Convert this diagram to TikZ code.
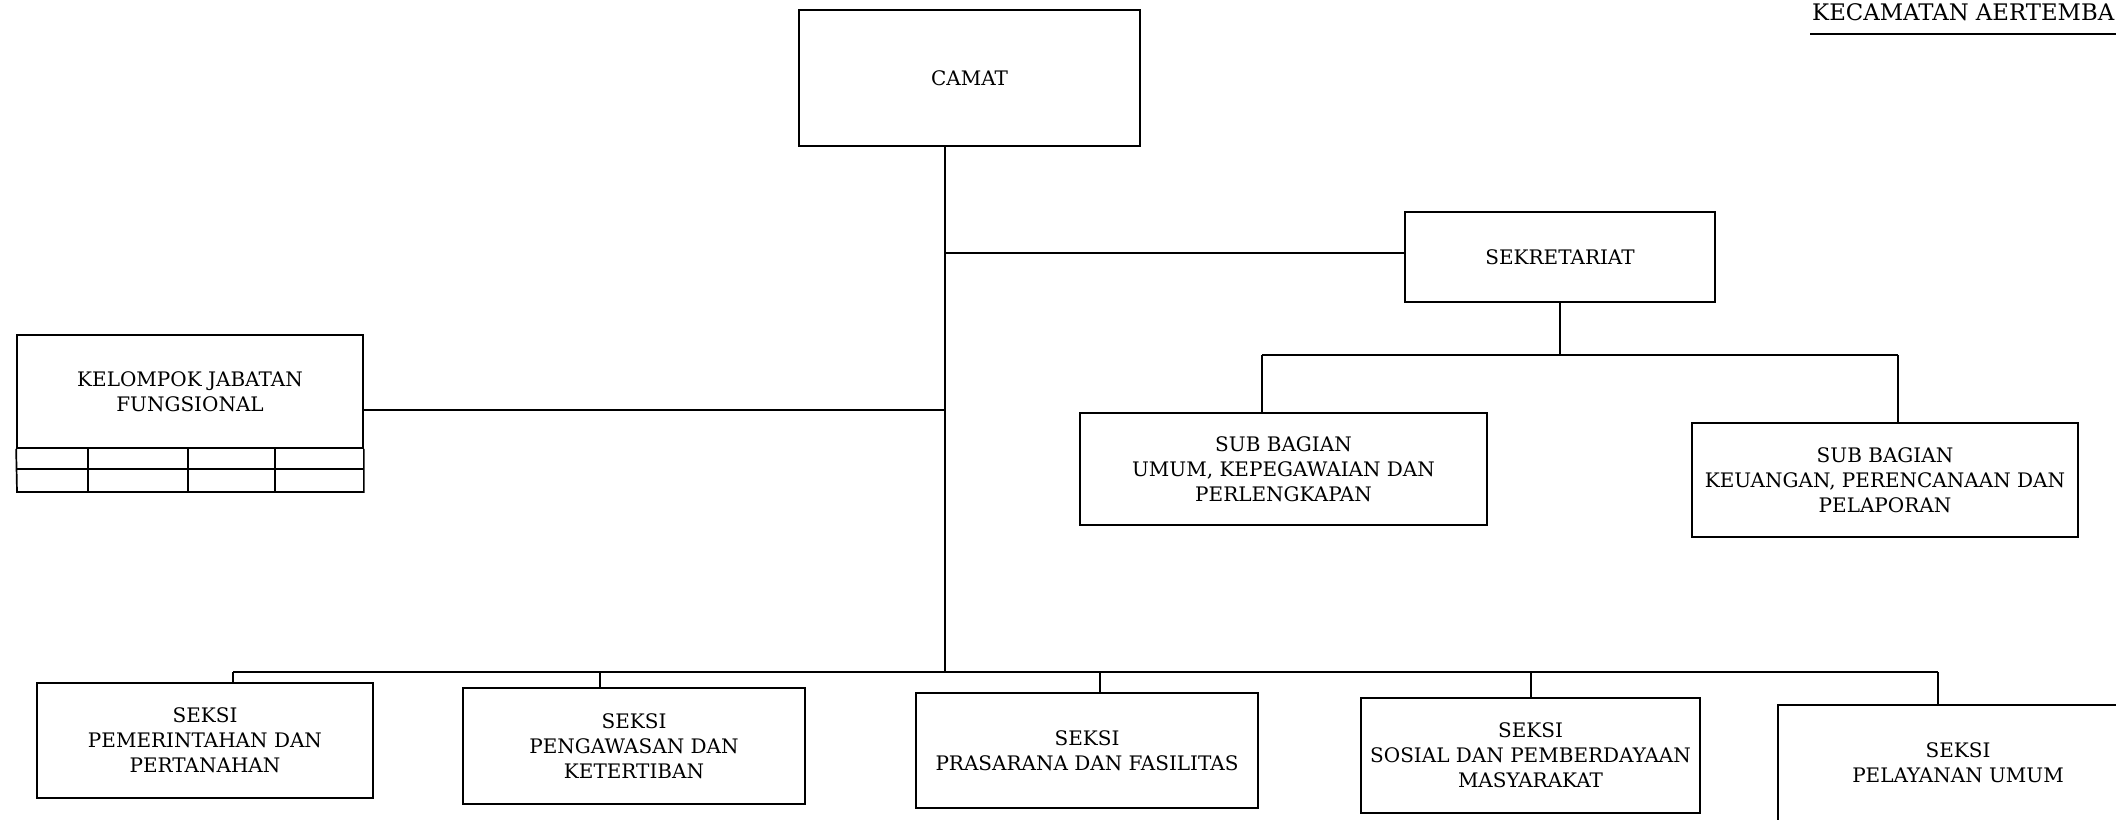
\documentclass[tikz,border=0pt]{standalone}
\usepackage{fontspec}
\setmainfont{DejaVu Serif}
\begin{document}
\begin{tikzpicture}[x=1pt,y=-1pt,
  box/.style={draw, line width=1.7pt, align=center, inner sep=0pt,
    font=\fontsize{20}{25}\selectfont, text=black},
  conn/.style={line width=1.7pt}]
\useasboundingbox (0,0) rectangle (2116,819);
\begin{scope}
\clip (0,0) rectangle (2116,819);
% title
\node[anchor=base west, inner sep=0pt, font=\fontsize{22.8}{25}\selectfont] (title) at (1812,20) {KECAMATAN AERTEMBA};
\coordinate (u1) at (1810,34);
\coordinate (u2) at (2120,34);
\draw[line width=1.5pt] (u1) -- (u2);
% boxes
\node[box, minimum width=341pt, minimum height=136pt] (camat) at (969.5,78) {CAMAT};
\node[box, minimum width=310pt, minimum height=90pt] (sekr) at (1560,257) {SEKRETARIAT};
\node[box, minimum width=346pt, minimum height=113pt] (kjf) at (190,391.5) {KELOMPOK JABATAN\\FUNGSIONAL};
\node[box, minimum width=407pt, minimum height=112pt] (sub1) at (1283.5,469) {SUB BAGIAN\\UMUM, KEPEGAWAIAN DAN\\PERLENGKAPAN};
\node[box, minimum width=386pt, minimum height=114pt] (sub2) at (1885,480) {SUB BAGIAN\\KEUANGAN, PERENCANAAN DAN\\PELAPORAN};
\node[box, minimum width=336pt, minimum height=115pt] (b1) at (205,740.5) {SEKSI\\PEMERINTAHAN DAN\\PERTANAHAN};
\node[box, minimum width=342pt, minimum height=116pt] (b2) at (634,746) {SEKSI\\PENGAWASAN DAN\\KETERTIBAN};
\node[box, minimum width=342pt, minimum height=115pt] (b3) at (1087,750.5) {SEKSI\\PRASARANA DAN FASILITAS};
\node[box, minimum width=339pt, minimum height=115pt] (b4) at (1530.5,755.5) {SEKSI\\SOSIAL DAN PEMBERDAYAAN\\MASYARAKAT};
\node[box, minimum width=360pt, minimum height=116pt] (b5) at (1958,763) {SEKSI\\PELAYANAN UMUM};
% KJF table rows
\coordinate (t1) at (17,469);
\coordinate (t2) at (17,492);
\draw[conn] (kjf.south west) -- (t2) -- (t2 -| kjf.east) -- (kjf.south east);
\draw[conn] (t1) -- (t1 -| kjf.east);
\foreach \cx in {88,188,275} {
  \draw[conn] (kjf.south west -| \cx,0) -- (t2 -| \cx,0);
}
% main spine
\coordinate (spine) at (945,672);
\draw[conn] (camat.south -| spine) -- (spine);
% sekretariat link
\coordinate (jS) at (945,253);
\draw[conn] (jS) -- (jS -| sekr.west);
% kjf link
\coordinate (jK) at (945,410);
\draw[conn] (jK) -- (jK -| kjf.east);
% sekretariat subordinates
\coordinate (sL) at (1262,355);
\coordinate (sR) at (1898,355);
\draw[conn] (sekr.south) -- (sekr.south |- sL);
\draw[conn] (sL) -- (sR);
\draw[conn] (sL) -- (sL |- sub1.north);
\draw[conn] (sR) -- (sR |- sub2.north);
% bottom bus
\coordinate (d1) at (233,672);
\coordinate (d2) at (600,672);
\coordinate (d3) at (1100,672);
\coordinate (d4) at (1531,672);
\coordinate (d5) at (1938,672);
\draw[conn] (d1) -- (d5);
\draw[conn] (d1) -- (d1 |- b1.north);
\draw[conn] (d2) -- (d2 |- b2.north);
\draw[conn] (d3) -- (d3 |- b3.north);
\draw[conn] (d4) -- (d4 |- b4.north);
\draw[conn] (d5) -- (d5 |- b5.north);
\end{scope}
\end{tikzpicture}
\end{document}
